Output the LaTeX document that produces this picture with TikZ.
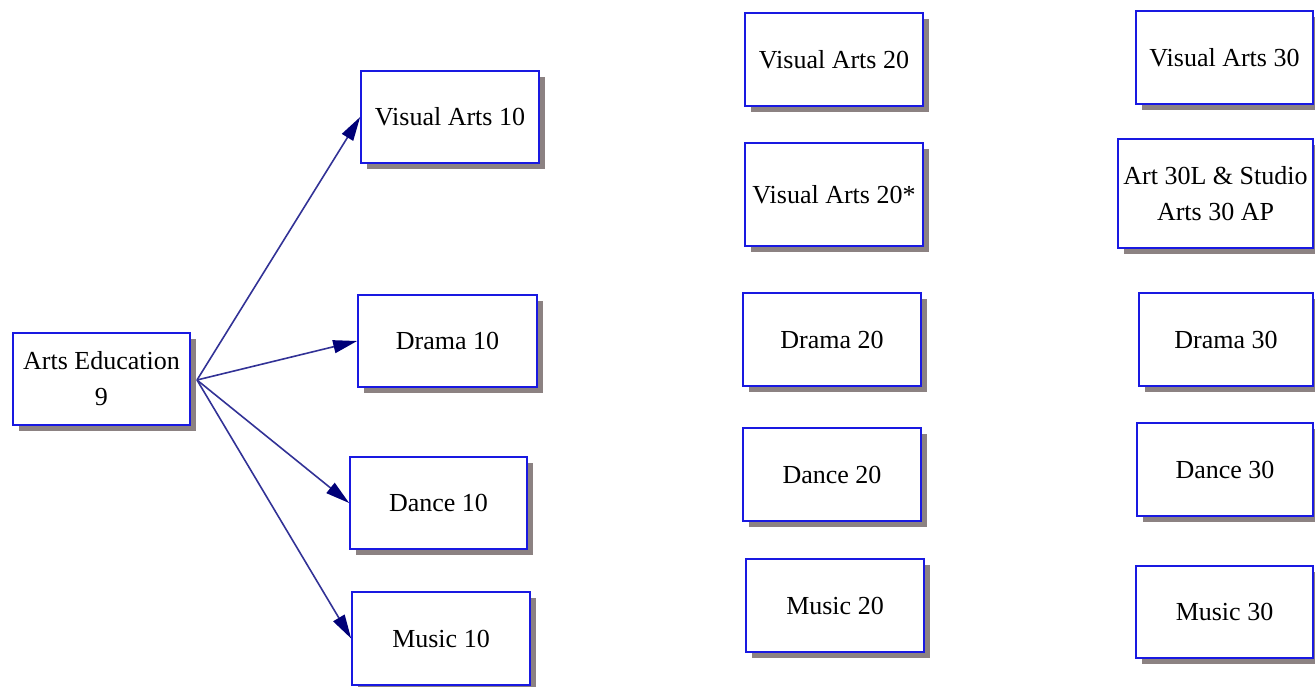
\documentclass[tikz,border=0pt]{standalone}
\usepackage{fontspec}
\setmainfont{Liberation Serif}
\usetikzlibrary{arrows.meta,shadows}
\definecolor{boxblue}{RGB}{25,25,225}
\definecolor{linkblue}{RGB}{50,50,150}
\definecolor{tipnavy}{RGB}{0,0,120}
\definecolor{shadowgrey}{RGB}{140,130,130}
\begin{document}
\begin{tikzpicture}[x=1pt,y=1pt,
  course/.style={draw=boxblue, line width=1.7pt, fill=white, inner sep=0pt,
    align=center, font=\fontsize{26}{36}\selectfont,
    drop shadow={shadow xshift=6pt, shadow yshift=-6pt, fill=shadowgrey, opacity=1}},
  link/.style={draw=linkblue, line width=1.6pt,
    -{Triangle[length=24pt,width=13pt,fill=tipnavy,color=tipnavy]}}]
\useasboundingbox (0,0) rectangle (1315,-687);
% column 9
\node[course, minimum width=177pt, minimum height=92pt] (ae) at (101.5,-379) {Arts Education\\9};
% column 10
\node[course, minimum width=178pt, minimum height=92pt] (va10) at (450,-117) {Visual Arts 10};
\node[course, minimum width=179pt, minimum height=92pt] (dr10) at (447.5,-341) {Drama 10};
\node[course, minimum width=177pt, minimum height=92pt] (da10) at (438.5,-503) {Dance 10};
\node[course, minimum width=178pt, minimum height=93pt] (mu10) at (441,-638.5) {Music 10};
% column 20
\node[course, minimum width=178pt, minimum height=93pt] (va20) at (834,-59.5) {Visual Arts 20};
\node[course, minimum width=178pt, minimum height=103pt] (va20s) at (834,-194.5) {Visual Arts 20*};
\node[course, minimum width=178pt, minimum height=93pt] (dr20) at (832,-339.5) {Drama 20};
\node[course, minimum width=178pt, minimum height=93pt] (da20) at (832,-474.5) {Dance 20};
\node[course, minimum width=178pt, minimum height=93pt] (mu20) at (835,-605.5) {Music 20};
% column 30
\node[course, minimum width=177pt, minimum height=93pt] (va30) at (1224.5,-57.5) {Visual Arts 30};
\node[course, minimum width=195pt, minimum height=109pt] (ap30) at (1215.5,-193.5) {Art 30L \& Studio\\Arts 30 AP};
\node[course, minimum width=174pt, minimum height=93pt] (dr30) at (1226,-339.5) {Drama 30};
\node[course, minimum width=176pt, minimum height=93pt] (da30) at (1225,-469.5) {Dance 30};
\node[course, minimum width=177pt, minimum height=92pt] (mu30) at (1224.5,-612) {Music 30};
% connectors
\coordinate (hub) at (197,-380);
\draw[link] (hub) -- (va10.west);
\draw[link] (hub) -- (dr10.west);
\draw[link] (hub) -- (da10.west);
\draw[link] (hub) -- (mu10.west);
\end{tikzpicture}
\end{document}
